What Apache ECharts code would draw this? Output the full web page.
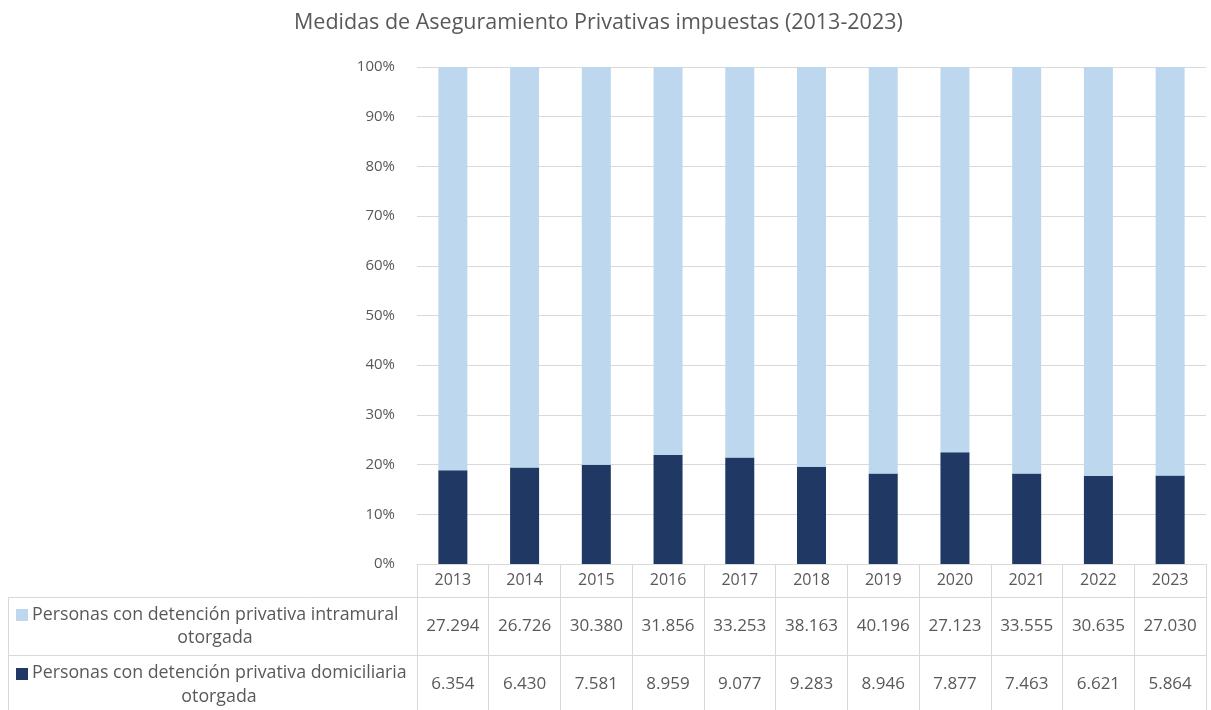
<!DOCTYPE html>
<html>
<head>
<meta charset="utf-8">
<script src="https://cdn.jsdelivr.net/npm/echarts@6/dist/echarts.min.js"></script>
<style>
  html, body { margin: 0; padding: 0; background: #fff; }
  #chart { width: 1211px; height: 710px; }
</style>
</head>
<body>
<div id="chart"></div>
<script>
// datos
const years = ['2013', '2014', '2015', '2016', '2017', '2018', '2019', '2020', '2021', '2022', '2023']
const intramural = [27294, 26726, 30380, 31856, 33253, 38163, 40196, 27123, 33555, 30635, 27030]
const domiciliaria = [6354, 6430, 7581, 8959, 9077, 9283, 8946, 7877, 7463, 6621, 5864]
const yTicks = [0, 10, 20, 30, 40, 50, 60, 70, 80, 90, 100]

const nameIntra = 'Personas con detención privativa intramural otorgada'
const nameDom = 'Personas con detención privativa domiciliaria otorgada'

const cLight = '#BDD7EE'
const cDark = '#1F3864'
const cText = '#595959'
const cLine = '#D9D9D9'
const ff = 'Open Sans'
const legendFont = '17.8px "Open Sans"'

// porcentaje sobre el total de cada año
const pctDom = domiciliaria.map((v, i) => (v / (v + intramural[i])) * 100)
const pctIntra = intramural.map((v, i) => (v / (v + domiciliaria[i])) * 100)

// 27294 -> 27.294
const fmt = (n) => n.toLocaleString('de-DE')

const myEchart = echarts.init(document.getElementById('chart'))

const option = {
  animation: false,
  textStyle: { fontFamily: ff },
  title: {
    text: 'Medidas de Aseguramiento Privativas impuestas (2013-2023)',
    left: 289,
    top: 7,
    textStyle: { fontSize: 21.5, fontWeight: 'normal', color: cText, fontFamily: ff }
  },
  grid: {
    left: 417,
    right: 5,
    top: 67,
    bottom: 146,
    outerBoundsMode: 'none'
  },
  xAxis: [
    {
      // fila de años + líneas verticales de la tabla
      type: 'category',
      position: 'bottom',
      data: years,
      axisLine: { show: true, lineStyle: { color: cLine, width: 1 } },
      axisTick: { show: true, length: 150, interval: 0, lineStyle: { color: cLine, width: 1 } },
      axisLabel: { interval: 0, margin: 16, verticalAlign: 'middle', fontSize: 16, color: cText }
    },
    {
      type: 'category',
      position: 'bottom',
      data: years,
      axisLine: { show: false },
      axisTick: { show: false },
      axisLabel: {
        interval: 0, margin: 62, verticalAlign: 'middle', fontSize: 17, color: cText,
        formatter: (v, i) => fmt(intramural[i])
      }
    },
    {
      type: 'category',
      position: 'bottom',
      data: years,
      axisLine: { show: false },
      axisTick: { show: false },
      axisLabel: {
        interval: 0, margin: 120, verticalAlign: 'middle', fontSize: 17, color: cText,
        formatter: (v, i) => fmt(domiciliaria[i])
      }
    }
  ],
  yAxis: {
    type: 'value',
    min: yTicks[0],
    max: yTicks[yTicks.length - 1],
    interval: 10,
    axisLine: { show: false },
    axisTick: { show: false },
    axisLabel: { formatter: '{value}%', fontSize: 15, color: cText, margin: 22 },
    splitLine: { lineStyle: { color: cLine, width: 1 } }
  },
  series: [
    {
      name: nameDom,
      type: 'bar',
      stack: 'total',
      barWidth: 29,
      itemStyle: { color: cDark },
      data: pctDom
    },
    {
      name: nameIntra,
      type: 'bar',
      stack: 'total',
      barWidth: 29,
      itemStyle: { color: cLight },
      data: pctIntra
    }
  ],
  graphic: [
    // bordes de la columna de leyenda
    { type: 'line', shape: { x1: 8, y1: 597.5, x2: 1206, y2: 597.5 }, style: { stroke: cLine, lineWidth: 1 } },
    { type: 'line', shape: { x1: 8, y1: 655.5, x2: 1206, y2: 655.5 }, style: { stroke: cLine, lineWidth: 1 } },
    { type: 'line', shape: { x1: 8.5, y1: 597, x2: 8.5, y2: 710 }, style: { stroke: cLine, lineWidth: 1 } },
    // leyenda intramural
    { type: 'rect', shape: { x: 16, y: 609, width: 12, height: 12 }, style: { fill: cLight } },
    { type: 'text', x: 32, y: 615, style: { text: 'Personas con detención privativa intramural', font: legendFont, fill: cText, textVerticalAlign: 'middle' } },
    { type: 'text', x: 215, y: 638, style: { text: 'otorgada', font: legendFont, fill: cText, textAlign: 'center', textVerticalAlign: 'middle' } },
    // leyenda domiciliaria
    { type: 'rect', shape: { x: 16, y: 668, width: 12, height: 12 }, style: { fill: cDark } },
    { type: 'text', x: 32, y: 673, style: { text: 'Personas con detención privativa domiciliaria', font: legendFont, fill: cText, textVerticalAlign: 'middle' } },
    { type: 'text', x: 219, y: 697, style: { text: 'otorgada', font: legendFont, fill: cText, textAlign: 'center', textVerticalAlign: 'middle' } }
  ]
}

myEchart.setOption(option)

window.addEventListener('resize', () => {
  myEchart.resize()
})
</script>
</body>
</html>
